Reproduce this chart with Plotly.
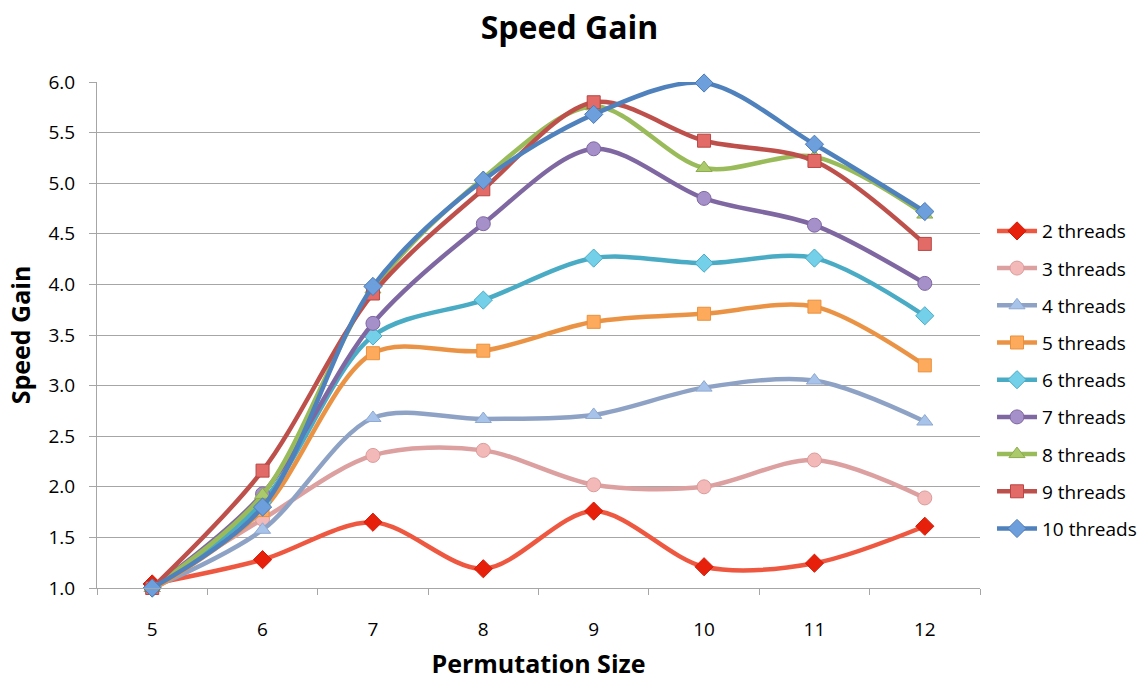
import plotly.graph_objects as go

# Permutation sizes on the x axis
sizes = ["5", "6", "7", "8", "9", "10", "11", "12"]

# Speed gain per thread count
gain_2 = [1.04, 1.28, 1.65, 1.19, 1.76, 1.21, 1.245, 1.61]
gain_3 = [1.00, 1.68, 2.31, 2.36, 2.02, 2.00, 2.265, 1.89]
gain_4 = [1.00, 1.575, 2.68, 2.67, 2.71, 2.98, 3.05, 2.645]
gain_5 = [0.98, 1.77, 3.32, 3.345, 3.63, 3.71, 3.78, 3.20]
gain_6 = [1.00, 1.85, 3.49, 3.845, 4.26, 4.21, 4.26, 3.69]
gain_7 = [1.00, 1.93, 3.615, 4.60, 5.34, 4.85, 4.585, 4.01]
gain_8 = [1.00, 1.92, 3.95, 5.05, 5.76, 5.15, 5.26, 4.69]
gain_9 = [1.00, 2.16, 3.91, 4.94, 5.80, 5.42, 5.22, 4.40]
gain_10 = [1.00, 1.80, 3.98, 5.03, 5.68, 5.99, 5.385, 4.72]

series_names = ["2 threads", "3 threads", "4 threads", "5 threads", "6 threads",
                "7 threads", "8 threads", "9 threads", "10 threads"]
series_values = [gain_2, gain_3, gain_4, gain_5, gain_6, gain_7, gain_8, gain_9, gain_10]

# (line colour, marker fill, marker outline, symbol, size)
styles = [
    ("#EE5840", "#E6200A", "#D41C08", "diamond", 14),
    ("#DBA09F", "#F3B9B8", "#DA9C9B", "circle", 14),
    ("#8DA2C4", "#A8C3EA", "#8FA8D0", "triangle-up", 14),
    ("#EB9345", "#FDAA5C", "#E8913E", "square", 13),
    ("#4AABC4", "#74CFE8", "#4AABC4", "diamond", 14),
    ("#7F67A1", "#A590CA", "#7F67A1", "circle", 14),
    ("#9ABB59", "#ABCA6C", "#8CAB4D", "triangle-up", 14),
    ("#BE504C", "#E26B68", "#B84643", "square", 13),
    ("#4F81BD", "#6E9FDD", "#4B7AB5", "diamond", 14),
]

FONT = "Open Sans"

fig = go.Figure()
for name, vals, (lc, mc, oc, sym, sz) in zip(series_names, series_values, styles):
    fig.add_trace(go.Scatter(
        x=sizes, y=vals, name=name, legendgroup=name,
        mode="lines+markers",
        line=dict(color=lc, width=4.5, shape="spline", smoothing=0.9),
        marker=dict(symbol=sym, size=sz, color=mc, line=dict(color=oc, width=1)),
        cliponaxis=False,
    ))

fig.update_layout(
    width=1139, height=680,
    paper_bgcolor="white", plot_bgcolor="white",
    margin=dict(l=97, r=159, t=82, b=92, autoexpand=False),
    font=dict(family=FONT, size=19, color="#000000"),
    title=dict(text="<b>Speed Gain</b>", x=0.5, xanchor="center", xref="container",
               y=1 - 28 / 680, yanchor="middle", font=dict(family=FONT, size=32, color="#000000")),
    legend=dict(x=1.0136, xanchor="left", y=0.411, yanchor="middle",
                font=dict(family=FONT, size=19), tracegroupgap=9.5,
                itemwidth=40, bgcolor="rgba(0,0,0,0)"),
    showlegend=True,
)

fig.update_xaxes(
    type="category", range=[-0.5, 7.5],
    showgrid=False, showline=True, linecolor="#A6A6A6", linewidth=1,
    ticks="outside", tickson="boundaries", ticklen=6, tickcolor="#A6A6A6",
    tickfont=dict(family=FONT, size=19), ticklabelstandoff=24,
    title=dict(text="<b>Permutation Size</b>", font=dict(family=FONT, size=25), standoff=28),
)
fig.update_yaxes(
    range=[1.0, 6.0], dtick=0.5, tick0=1.0, tickformat=".1f",
    showgrid=True, gridcolor="#A6A6A6", gridwidth=1,
    showline=True, linecolor="#A6A6A6", linewidth=1,
    ticks="outside", ticklen=7, tickcolor="#A6A6A6",
    tickfont=dict(family=FONT, size=19), ticklabelstandoff=10,
    zeroline=False,
    title=dict(text="<b>Speed Gain</b>", font=dict(family=FONT, size=25), standoff=10),
)

fig.write_html("out.html")
